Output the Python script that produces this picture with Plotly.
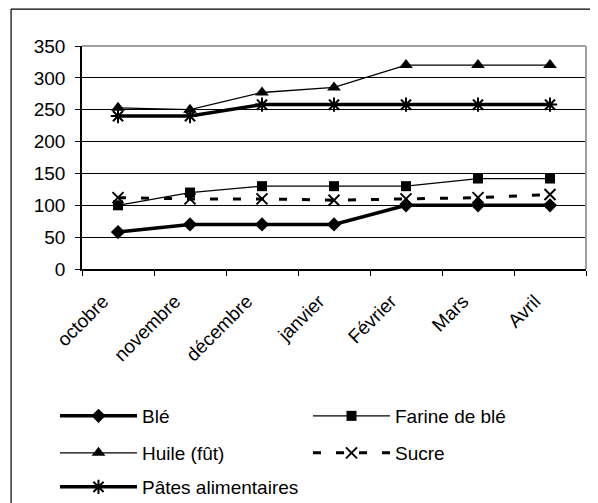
import plotly.graph_objects as go

months = ["octobre", "novembre", "décembre", "janvier", "Février", "Mars", "Avril"]
ble = [58, 70, 70, 70, 100, 100, 100]
farine = [100, 120, 130, 130, 130, 142, 142]
huile = [253, 250, 277, 285, 320, 320, 320]
sucre = [112, 110, 110, 108, 110, 112, 117]
pates = [240, 240, 258, 258, 258, 258, 258]
y_ticks = [0, 50, 100, 150, 200, 250, 300, 350]

# the page body adds an 8px margin; work in window pixels and shift
O = 8
W, H = 598 - O, 503 - O
L, R, T, B = 82 - O, 586.5 - O, 46 - O, 269.5 - O
pw, ph = R - L, B - T

def px2x(px):
    return (px - O - L) / pw

def px2y(py):
    return (B - (py - O)) / ph

FONT = "Liberation Sans, Arial, sans-serif"
fig = go.Figure()

fig.add_trace(go.Scatter(x=months, y=ble, name="Blé", mode="lines+markers",
                         line=dict(color="black", width=3.5),
                         marker=dict(symbol="diamond", size=11, color="black"),
                         legend="legend"))
fig.add_trace(go.Scatter(x=months, y=farine, name="Farine de blé", mode="lines+markers",
                         line=dict(color="black", width=1.3),
                         marker=dict(symbol="square", size=10, color="black"),
                         legend="legend"))
fig.add_trace(go.Scatter(x=months, y=huile, name="Huile (fût)", mode="lines+markers",
                         line=dict(color="black", width=1.3),
                         marker=dict(symbol="triangle-up", size=12, color="black"),
                         legend="legend2"))
fig.add_trace(go.Scatter(x=months, y=sucre, name="Sucre", mode="lines+markers",
                         line=dict(color="black", width=3, dash="8px,15px"),
                         marker=dict(symbol="x-thin-open", size=11, color="black",
                                     line=dict(color="black", width=2)),
                         legend="legend2"))
fig.add_trace(go.Scatter(x=months, y=pates, name="Pâtes alimentaires", mode="lines+markers",
                         line=dict(color="black", width=3.5),
                         marker=dict(symbol="asterisk-open", size=12, color="black",
                                     line=dict(color="black", width=2)),
                         legend="legend3"))

leg_common = dict(orientation="h", xanchor="left", yanchor="middle",
                  xref="container", yref="container",
                  font=dict(family=FONT, size=19, color="black"),
                  bgcolor="rgba(0,0,0,0)", itemwidth=77, entrywidth=161,
                  entrywidthmode="pixels", itemclick=False, itemdoubleclick=False)

LX = (55 - O) / W

def ly(py):
    return 1 - (py - O) / H

fig.update_layout(
    width=W, height=H, autosize=False,
    margin=dict(l=L, r=W - R, t=T, b=H - B, pad=0),
    paper_bgcolor="white", plot_bgcolor="white",
    font=dict(family=FONT, size=19, color="black"),
    showlegend=True,
    legend=dict(x=LX, y=ly(416), **leg_common),
    legend2=dict(x=LX, y=ly(453), **leg_common),
    legend3=dict(x=LX, y=ly(487), **leg_common),
    xaxis=dict(type="category", range=[-0.5, 6.5], tickson="boundaries",
               ticks="outside", ticklen=5, tickcolor="black", tickwidth=1,
               showline=True, linecolor="black", linewidth=1.5,
               showgrid=False, tickangle=-45, automargin=False,
               ticklabelshift=-15, ticklabelstandoff=12,
               tickfont=dict(family=FONT, size=19, color="black")),
    yaxis=dict(range=[0, 350], tickvals=y_ticks, ticks="outside", ticklen=5,
               tickcolor="black", tickwidth=1, showline=True, linecolor="black",
               linewidth=1.5, showgrid=True, gridcolor="black", gridwidth=1,
               zeroline=False, automargin=False, ticklabelstandoff=6,
               tickfont=dict(family=FONT, size=19, color="black")),
    shapes=[
        dict(type="line", xref="paper", yref="paper", x0=0, x1=1, y0=1, y1=1,
             line=dict(color="#a0a0a0", width=2), layer="above"),
        dict(type="line", xref="paper", yref="paper", x0=1, x1=1, y0=0, y1=1,
             line=dict(color="#a0a0a0", width=2), layer="above"),
        dict(type="line", xref="paper", yref="paper", x0=px2x(11), x1=px2x(640),
             y0=px2y(9), y1=px2y(9), line=dict(color="black", width=1.2)),
        dict(type="line", xref="paper", yref="paper", x0=px2x(11), x1=px2x(11),
             y0=px2y(9), y1=px2y(560), line=dict(color="black", width=1.2)),
    ],
)

fig.write_html("out.html")
